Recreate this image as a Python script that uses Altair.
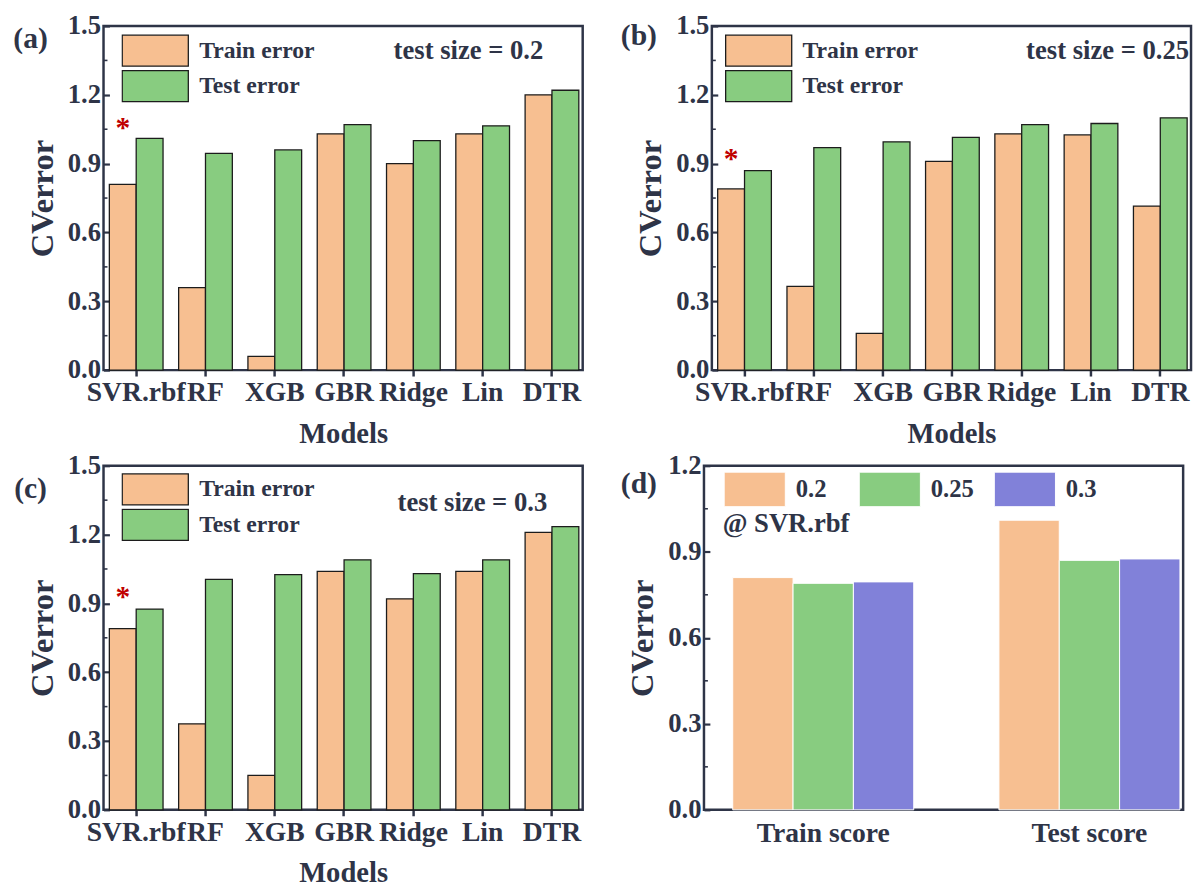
import altair as alt
import pandas as pd

# ---------------- data ----------------
models = ["SVR.rbf", "RF", "XGB", "GBR", "Ridge", "Lin", "DTR"]
series = ["Train error", "Test error"]

train_a = [0.81, 0.36, 0.06, 1.03, 0.90, 1.03, 1.20]
test_a = [1.01, 0.945, 0.96, 1.07, 1.00, 1.065, 1.22]

train_b = [0.79, 0.365, 0.16, 0.91, 1.03, 1.025, 0.715]
test_b = [0.87, 0.97, 0.995, 1.015, 1.07, 1.075, 1.10]

train_c = [0.79, 0.375, 0.15, 1.04, 0.92, 1.04, 1.21]
test_c = [0.875, 1.005, 1.025, 1.09, 1.03, 1.09, 1.235]

star_values = [1.08, 0.945, 0.955]

test_sizes = ["0.2", "0.25", "0.3"]
score_groups = ["Train score", "Test score"]
svr_train_score = [0.81, 0.79, 0.795]
svr_test_score = [1.01, 0.87, 0.875]

y_ticks_err = [0.0, 0.3, 0.6, 0.9, 1.2, 1.5]
y_minor_err = [0.15, 0.45, 0.75, 1.05, 1.35]
y_ticks_d = [0.0, 0.3, 0.6, 0.9, 1.2]
y_minor_d = [0.15, 0.45, 0.75, 1.05]

# ---------------- style ----------------
NAVY = "#2e3447"
FONT = "Liberation Serif"
PEACH = "#f7bf91"
GREEN = "#88cc80"
BLUE = "#8181d9"
RED = "#c00000"

W_ERR = 486
W_D = 486
H = 349

INDEP = dict(x="independent", y="independent", color="independent",
             xOffset="independent")


def y_axis(values, title="CVerror"):
    return alt.Axis(
        values=values, format=".1f", title=title,
        labelFont=FONT, labelFontSize=27, labelFontWeight="bold", labelColor=NAVY,
        labelPadding=3, ticks=False, domain=False,
        grid=True, gridColor=NAVY, gridWidth=2.2, gridDash=[6, 3000], gridOpacity=1,
        titleFont=FONT, titleFontSize=33, titleFontWeight="bold", titleColor=NAVY,
        titlePadding=8,
    )


def text_layer(txt, x, y, size, align="center", color=NAVY):
    return alt.Chart(pd.DataFrame({"t": [txt]})).mark_text(
        font=FONT, fontSize=size, fontWeight="bold", color=color,
        align=align, baseline="middle",
    ).encode(text="t:N", x=alt.value(x), y=alt.value(y))


def minor_layer(vals, yscale):
    return alt.Chart(pd.DataFrame({"Value": vals})).mark_rule(
        color=NAVY, strokeWidth=1.6
    ).encode(
        y=alt.Y("Value:Q", scale=yscale),
        x=alt.value(0), x2=alt.value(4),
    )


def error_panel(train, test, tag, size_txt, star_v, leg_x, leg_y, size_x, size_y, tag_y):
    rows = []
    for m, tr, te in zip(models, train, test):
        rows.append({"Model": m, "Series": "Train error", "Value": tr})
        rows.append({"Model": m, "Series": "Test error", "Value": te})
    df = pd.DataFrame(rows)

    xenc = alt.X(
        "Model:N", sort=models,
        scale=alt.Scale(paddingInner=0.225, paddingOuter=0.07, align=0.6),
        axis=alt.Axis(
            title="Models", labelAngle=0, labelFont=FONT, labelFontSize=28,
            labelFontWeight="bold", labelColor=NAVY, labelPadding=3,
            labelOverlap=False, ticks=True, tickSize=6, tickWidth=2.5,
            tickColor=NAVY, domain=False, titleFont=FONT, titleFontSize=29,
            titleFontWeight="bold", titleColor=NAVY, titlePadding=13,
        ),
    )
    xoff = alt.XOffset("Series:N", sort=series,
                       scale=alt.Scale(domain=series, paddingInner=0, paddingOuter=0))
    yscale = alt.Scale(domain=[0, 1.5], nice=False)

    bars = alt.Chart(df).mark_bar(stroke="#1c1c1c", strokeWidth=1.3).encode(
        x=xenc, xOffset=xoff,
        y=alt.Y("Value:Q", scale=yscale, axis=y_axis(y_ticks_err)),
        color=alt.Color(
            "Series:N", sort=series,
            scale=alt.Scale(domain=series, range=[PEACH, GREEN]),
            legend=alt.Legend(
                title=None, orient="none", legendX=leg_x, legendY=leg_y,
                symbolType="M-1,-0.47H1V0.47H-1Z", symbolSize=4489,
                clipHeight=34, rowPadding=2, symbolStrokeColor="#1c1c1c",
                symbolStrokeWidth=1.3, symbolOpacity=1,
                labelFont=FONT, labelFontSize=24, labelFontWeight="bold",
                labelColor=NAVY, labelOffset=10, labelLimit=0, padding=0,
            ),
        ),
    )

    star_df = pd.DataFrame({"Model": ["SVR.rbf"], "Series": ["Train error"],
                            "Value": [star_v]})
    star = alt.Chart(star_df).mark_text(
        text="*", font=FONT, fontSize=30, fontWeight="bold", color=RED,
        baseline="middle", dy=6,
    ).encode(x=alt.X("Model:N", sort=models),
             xOffset=alt.XOffset("Series:N", sort=series),
             y=alt.Y("Value:Q", scale=yscale))

    return alt.layer(
        bars, minor_layer(y_minor_err, yscale), star,
        text_layer(tag, -74, tag_y, 30),
        text_layer(size_txt, size_x, size_y, 27, align="right"),
    ).properties(width=W_ERR, height=H)


def score_panel():
    rows = []
    for ts, tr, te in zip(test_sizes, svr_train_score, svr_test_score):
        rows.append({"Group": "Train score", "Size": ts, "Value": tr})
        rows.append({"Group": "Test score", "Size": ts, "Value": te})
    df = pd.DataFrame(rows)
    yscale = alt.Scale(domain=[0, 1.2], nice=False)
    bars = alt.Chart(df).mark_bar(stroke="white", strokeWidth=1).encode(
        x=alt.X(
            "Group:N", sort=score_groups,
            scale=alt.Scale(paddingInner=0.32, paddingOuter=0.06, align=0.9),
            axis=alt.Axis(
                title=None, labelAngle=0, labelFont=FONT, labelFontSize=28,
                labelFontWeight="bold", labelColor=NAVY, labelPadding=10,
                ticks=False, domain=False,
            ),
        ),
        xOffset=alt.XOffset("Size:N", sort=test_sizes,
                            scale=alt.Scale(domain=test_sizes, paddingInner=0, paddingOuter=0)),
        y=alt.Y("Value:Q", scale=yscale, axis=y_axis(y_ticks_d)),
        color=alt.Color(
            "Size:N", sort=test_sizes,
            scale=alt.Scale(domain=test_sizes, range=[PEACH, GREEN, BLUE]),
            legend=alt.Legend(
                title=None, orient="none", legendX=20, legendY=6,
                direction="horizontal", columns=3, gridAlign="all",
                columnPadding=20,
                symbolType="M-1,-0.565H1V0.565H-1Z", symbolSize=3844,
                clipHeight=36, symbolStrokeColor="white", symbolStrokeWidth=1,
                symbolOpacity=1, labelFont=FONT, labelFontSize=25,
                labelFontWeight="bold", labelColor=NAVY, labelOffset=10,
                labelLimit=0, padding=0,
            ),
        ),
    )
    return alt.layer(
        bars, minor_layer(y_minor_d, yscale),
        text_layer("(d)", -66, 19, 30),
        text_layer("@ SVR.rbf", 19, 59, 27, align="left"),
    ).properties(width=W_D, height=H)


pa = error_panel(train_a, test_a, "(a)", "test size = 0.2", star_values[0], 18, 8, 446, 25, 13)
pb = error_panel(train_b, test_b, "(b)", "test size = 0.25", star_values[1], 13, 8, 484, 25, 10)
pc = error_panel(train_c, test_c, "(c)", "test size = 0.3", star_values[2], 18, 7, 450, 38, 24)
pd_ = score_panel()

row1 = alt.hconcat(pa, pb, spacing=35).resolve_scale(**INDEP).resolve_legend(color="independent")
row2 = alt.hconcat(pc, pd_, spacing=35).resolve_scale(**INDEP).resolve_legend(color="independent")

chart = alt.vconcat(row1, row2, spacing=0).resolve_scale(**INDEP).resolve_legend(
    color="independent"
).properties(
    padding={"left": 12, "top": 4, "right": 0, "bottom": 0},
    background="white",
).configure_view(
    stroke=NAVY, strokeWidth=2.5,
)

chart.save("out.html", embed_options={"renderer": "svg", "actions": False})
